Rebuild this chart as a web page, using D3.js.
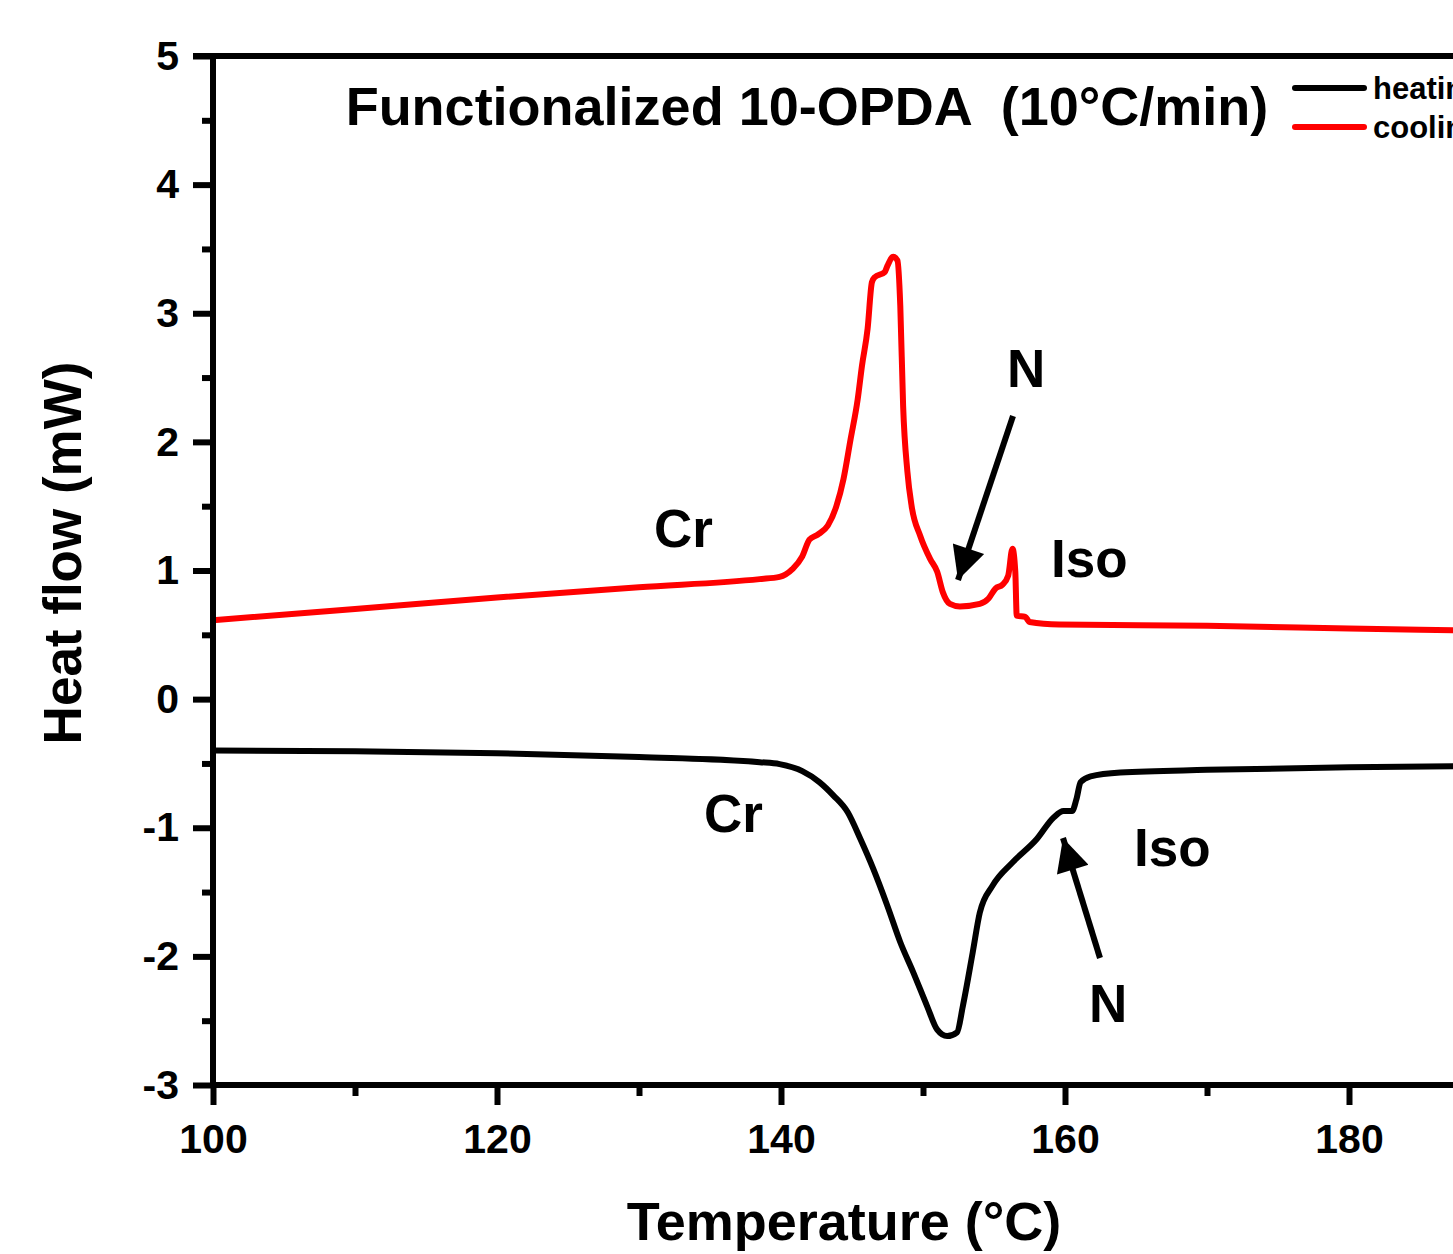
<!DOCTYPE html>
<html>
<head>
<meta charset="utf-8">
<script src="https://cdn.jsdelivr.net/npm/d3@7"></script>
<style>
  body { margin: 0; background: #fff; }
  text { font-family: "Liberation Sans", Arial, sans-serif; font-weight: bold; }
</style>
</head>
<body>
<div id="chart"></div>
<script>
// cooling run (red), temperature in °C / heat flow in mW
var coolT = [100, 110, 120, 130, 138.5, 139.9, 140.8, 141.5, 142.0, 142.6, 143.3, 143.9, 144.4, 144.9, 145.4, 145.7, 146.1, 146.4, 146.6, 147.3, 147.5, 147.9, 148.2, 148.4, 148.6, 148.9, 149.2, 149.8, 150.5, 151.0, 151.4, 151.9, 152.6, 154.0, 154.6, 155.1, 155.6, 156.0, 156.3, 156.5, 156.6, 157.2, 157.5, 159.6, 170, 180, 190];
var coolV = [0.614, 0.70, 0.79, 0.87, 0.933, 0.95, 1.01, 1.11, 1.24, 1.28, 1.35, 1.50, 1.71, 2.02, 2.33, 2.59, 2.88, 3.24, 3.28, 3.32, 3.37, 3.44, 3.41, 3.06, 2.28, 1.77, 1.50, 1.27, 1.09, 0.99, 0.83, 0.74, 0.72, 0.74, 0.78, 0.86, 0.89, 0.96, 1.17, 0.99, 0.65, 0.64, 0.60, 0.58, 0.57, 0.55, 0.53];
// heating run (black)
var heatT = [100, 110, 120, 130, 138.5, 139.9, 141.5, 142.7, 143.7, 144.7, 145.6, 146.5, 147.5, 148.4, 149.3, 150.3, 151.0, 151.7, 152.4, 152.8, 153.5, 154.0, 154.9, 156.3, 158.0, 159.2, 159.9, 160.5, 160.8, 161.1, 161.8, 163.9, 170, 180, 190];
var heatV = [-0.40, -0.405, -0.42, -0.45, -0.49, -0.505, -0.56, -0.645, -0.75, -0.88, -1.09, -1.32, -1.61, -1.89, -2.12, -2.39, -2.57, -2.62, -2.59, -2.39, -1.97, -1.66, -1.45, -1.27, -1.09, -0.92, -0.87, -0.87, -0.78, -0.645, -0.60, -0.57, -0.55, -0.53, -0.52];

var xTicks = [100, 120, 140, 160, 180];
var xMinor = [110, 130, 150, 170];
var yTicks = [-3, -2, -1, 0, 1, 2, 3, 4, 5];
var yMinor = [-2.5, -1.5, -0.5, 0.5, 1.5, 2.5, 3.5, 4.5];

var width = 1453, height = 1254;
var x = d3.scaleLinear().domain([100, 200]).range([213, 1633]);
var y = d3.scaleLinear().domain([-3, 5]).range([1085, 56]);

var svg = d3.select("#chart").append("svg")
    .attr("width", width)
    .attr("height", height);

function lineOf(ts, vs) {
    return d3.line()
        .x(function (d, i) { return x(ts[i]); })
        .y(function (d, i) { return y(vs[i]); })
        .curve(d3.curveMonotoneX)(ts);
}

svg.append("path")
    .attr("d", lineOf(heatT, heatV))
    .attr("fill", "none")
    .attr("stroke", "#000")
    .attr("stroke-width", 6)
    .attr("stroke-linejoin", "round");
svg.append("path")
    .attr("d", lineOf(coolT, coolV))
    .attr("fill", "none")
    .attr("stroke", "#ff0000")
    .attr("stroke-width", 6)
    .attr("stroke-linejoin", "round");

// axes
var xAxis = svg.append("g")
    .attr("transform", "translate(0," + y(-3) + ")")
    .call(d3.axisBottom(x).tickValues(xTicks).tickSize(20).tickPadding(19).tickFormat(function (d) { return d; }));
var xAxisMinor = svg.append("g")
    .attr("transform", "translate(0," + y(-3) + ")")
    .call(d3.axisBottom(x).tickValues(xMinor).tickSize(11).tickFormat(""));
var yAxis = svg.append("g")
    .attr("transform", "translate(" + x(100) + ",0)")
    .call(d3.axisLeft(y).tickValues(yTicks).tickSize(20).tickPadding(14).tickFormat(function (d) { return String(d); }));
var yAxisMinor = svg.append("g")
    .attr("transform", "translate(" + x(100) + ",0)")
    .call(d3.axisLeft(y).tickValues(yMinor).tickSize(11).tickFormat(""));
var topAxis = svg.append("g")
    .attr("transform", "translate(0," + y(5) + ")")
    .call(d3.axisTop(x).tickValues([]).tickSizeOuter(0));

[xAxis, xAxisMinor, yAxis, yAxisMinor, topAxis].forEach(function (g) {
    g.selectAll(".domain").attr("stroke", "#000").attr("stroke-width", 6);
    g.selectAll(".tick line").attr("stroke", "#000").attr("stroke-width", 6);
    g.selectAll(".tick text").attr("fill", "#000").style("font-size", "41px");
});
xAxis.select(".domain").attr("d", "M" + x(100) + ",0H" + x(200));
xAxisMinor.select(".domain").remove();
yAxisMinor.select(".domain").remove();
yAxis.select(".domain").attr("d", "M0," + y(-3) + "V" + y(5));
topAxis.select(".domain").attr("d", "M" + (x(100) - 20) + ",0H" + x(200));

// titles
svg.append("text")
    .attr("x", 807).attr("y", 125)
    .attr("text-anchor", "middle")
    .style("font-size", "54px")
    .attr("xml:space", "preserve")
    .text("Functionalized 10-OPDA  (10°C/min)");
svg.append("text")
    .attr("x", 844).attr("y", 1240)
    .attr("text-anchor", "middle")
    .style("font-size", "54px")
    .text("Temperature (°C)");
svg.append("text")
    .attr("transform", "translate(81,553) rotate(-90)")
    .attr("text-anchor", "middle")
    .style("font-size", "53px")
    .text("Heat flow (mW)");

// legend
var legend = [
    {name: "heating", color: "#000", y: 88},
    {name: "cooling", color: "#ff0000", y: 127}
];
legend.forEach(function (l) {
    svg.append("line")
        .attr("x1", 1295).attr("x2", 1364)
        .attr("y1", l.y).attr("y2", l.y)
        .attr("stroke", l.color).attr("stroke-width", 6)
        .attr("stroke-linecap", "round");
    svg.append("text")
        .attr("x", 1373).attr("y", l.y + 11)
        .style("font-size", "31px")
        .text(l.name);
});

// phase labels
var labels = [
    {t: "Cr", x: 654, y: 547},
    {t: "N", x: 1007, y: 387},
    {t: "Iso", x: 1051, y: 577},
    {t: "Cr", x: 704, y: 832},
    {t: "Iso", x: 1134, y: 866},
    {t: "N", x: 1089, y: 1022}
];
labels.forEach(function (l) {
    svg.append("text")
        .attr("x", l.x).attr("y", l.y)
        .style("font-size", "53px")
        .text(l.t);
});

// arrows
svg.append("defs").append("marker")
    .attr("id", "head")
    .attr("viewBox", "0 0 10 10")
    .attr("refX", 10).attr("refY", 5)
    .attr("markerWidth", 6).attr("markerHeight", 5.5)
    .attr("markerUnits", "strokeWidth")
    .attr("orient", "auto")
    .append("path")
    .attr("d", "M0,0L10,5L0,10Z")
    .attr("fill", "#000");
[[1013, 416, 958, 580], [1100, 958, 1063, 838]].forEach(function (a) {
    svg.append("line")
        .attr("x1", a[0]).attr("y1", a[1])
        .attr("x2", a[2]).attr("y2", a[3])
        .attr("stroke", "#000").attr("stroke-width", 6)
        .attr("marker-end", "url(#head)");
});
</script>
</body>
</html>
